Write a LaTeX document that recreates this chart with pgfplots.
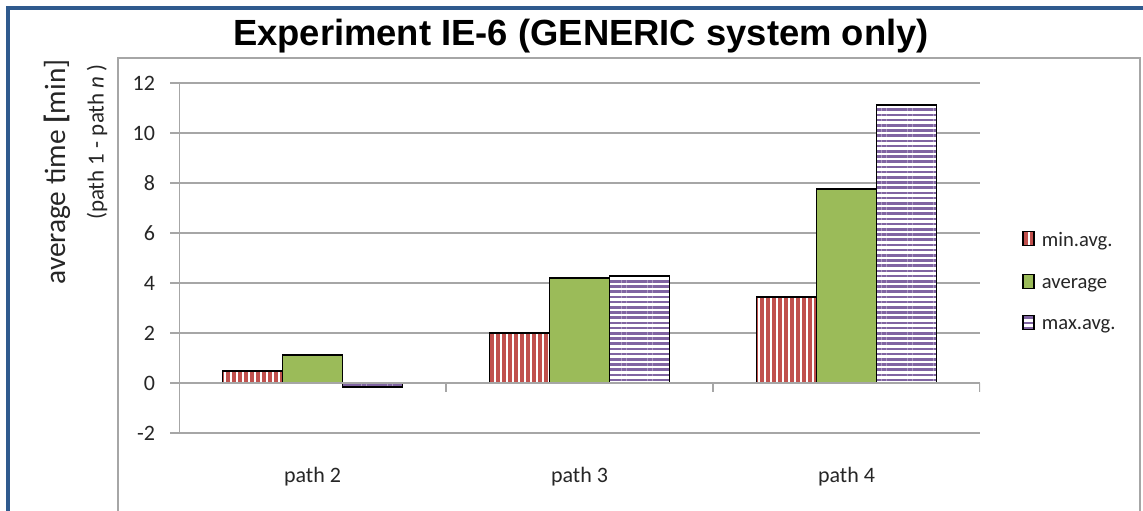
\documentclass[border=0pt]{standalone}
\usepackage{fontspec}
\setmainfont{Carlito}
\newfontfamily\arialfont{Liberation Sans}
\usepackage{pgfplots}
\pgfplotsset{compat=1.18}
\usetikzlibrary{patterns.meta}
\definecolor{exred}{HTML}{C0504D}
\definecolor{exgreen}{HTML}{9BBB59}
\definecolor{expurple}{HTML}{8064A2}
\definecolor{gridgray}{HTML}{A6A6A6}
\definecolor{frameblue}{HTML}{2F5A8E}
\pgfplotstableread{
x minavg average maxavg
0 0.48 1.13 -0.16
1 2.00 4.21 4.28
2 3.44 7.76 11.12
}\datatable
\pgfplotsset{
  mylegend/.style={legend image code/.code={\draw[##1, line width=0.7pt] (0pt,-2pt) rectangle (5.5pt,5pt);}}
}
\begin{document}
\begin{tikzpicture}
\useasboundingbox (-89.5pt,-38.5pt) rectangle (482pt,216.5pt);
\draw[gridgray, line width=1pt] (-30.5pt,-60pt) -- (-30.5pt,187.5pt) -- (480.5pt,187.5pt) -- (480.5pt,-60pt);
\draw[frameblue, line width=1.6pt] (-85.5pt,-60pt) -- (-85.5pt,212.5pt) -- (500pt,212.5pt);
\node[anchor=base, font=\arialfont\bfseries\fontsize{18.2}{21}\selectfont] at (201pt,194pt) {Experiment IE-6 (GENERIC system only)};
\node[rotate=90, font=\fontsize{14.7}{17}\selectfont, text=black!85] at (-61pt,130.5pt) {average time \textbf{[}min]};
\node[rotate=90, font=\fontsize{11.5}{13}\selectfont, text=black!85] at (-41pt,145.5pt) {(path 1 - path \textit{n} )};
\begin{axis}[
  scale only axis, width=400.5pt, height=175pt,
  at={(0,0)}, anchor=south west,
  ybar=0pt, bar width=0.225,
  xmin=-0.5, xmax=2.5, ymin=-2, ymax=12,
  ytick={-2,0,...,12},
  xtick={0,1,2}, xticklabels={path 2, path 3, path 4},
  axis line style={draw=none},
  ymajorgrids, grid style={gridgray, line width=1pt},
  ytick pos=left, tick align=outside, major tick length=4.5pt,
  ytick style={gridgray, line width=1pt},
  xtick style={draw=none},
  ticklabel style={font=\fontsize{11}{13}\selectfont, text=black!85},
  yticklabel style={xshift=-4pt},
  xticklabel style={yshift=-9pt},
  /pgf/number format/assume math mode=true,
  legend style={draw=none, at={(1.045,0.43)}, anchor=west,
    font=\fontsize{10.3}{12}\selectfont, row sep=10pt, text=black!85,
    /tikz/every odd column/.append style={column sep=1.5pt}},
  legend cell align=left,
]
\addplot[mylegend, draw=black, line width=0.75pt, fill=white,
  postaction={pattern={Lines[angle=90,distance=3pt,line width=1.55pt]}, pattern color=exred}]
  table[x=x, y=minavg] {\datatable};
\addlegendentry{min.avg.}
\addplot[mylegend, draw=black, line width=0.75pt, fill=exgreen]
  table[x=x, y=average] {\datatable};
\addlegendentry{average}
\addplot[mylegend, draw=black, line width=0.75pt, fill=white,
  postaction={pattern={Lines[angle=0,distance=2.6pt,line width=1.3pt]}, pattern color=expurple}]
  table[x=x, y=maxavg] {\datatable};
\addlegendentry{max.avg.}
\draw[gridgray, line width=1pt] (axis cs:-0.5,-2) -- (axis cs:-0.5,12);
\draw[gridgray, line width=1pt] (axis cs:-0.5,0) -- (axis cs:2.5,0);
\draw[gridgray, line width=1pt] (axis cs:0.5,0) -- ([yshift=-4.5pt]axis cs:0.5,0);
\draw[gridgray, line width=1pt] (axis cs:1.5,0) -- ([yshift=-4.5pt]axis cs:1.5,0);
\draw[gridgray, line width=1pt] (axis cs:2.5,0) -- ([yshift=-4.5pt]axis cs:2.5,0);
\end{axis}
\end{tikzpicture}
\end{document}
